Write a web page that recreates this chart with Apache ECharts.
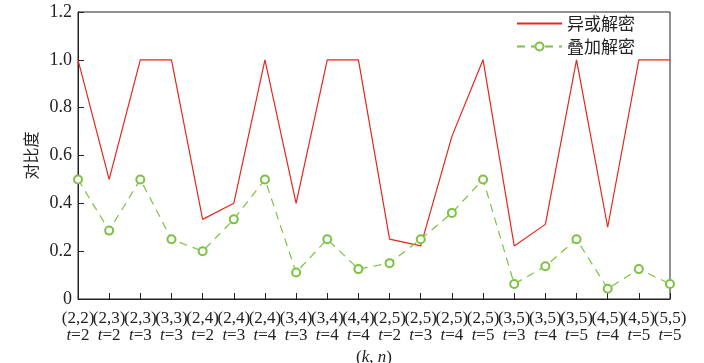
<!DOCTYPE html>
<html><head><meta charset="utf-8">
<script src="https://cdn.jsdelivr.net/npm/echarts@6/dist/echarts.min.js"></script>
<style>html,body{margin:0;padding:0;background:#fff}#c{width:704px;height:363px}</style>
</head><body><div id="c"></div>
<script>
var knLabels = ['(2,2)','(2,3)','(2,3)','(3,3)','(2,4)','(2,4)','(2,4)','(3,4)','(3,4)','(4,4)','(2,5)','(2,5)','(2,5)','(2,5)','(3,5)','(3,5)','(3,5)','(4,5)','(4,5)','(5,5)'];
var tLabels = ['2','2','3','3','2','3','4','3','4','4','2','3','4','5','3','4','5','4','5','5'];
var xorValues = [1.0,0.5,1.0,1.0,0.333,0.4,1.0,0.4,1.0,1.0,0.25,0.222,0.68,1.0,0.222,0.312,1.0,0.3,1.0,1.0];
var stackValues = [0.5,0.286,0.5,0.25,0.2,0.333,0.5,0.111,0.25,0.125,0.15,0.25,0.36,0.5,0.063,0.137,0.25,0.043,0.125,0.063];
var yTicks = [0,0.2,0.4,0.6,0.8,1.0,1.2];
var seriesNames = ['异或解密','叠加解密'];

var categories = knLabels.map(function(k,i){return k+'|'+tLabels[i];});
var FONT = '"Liberation Serif","Times New Roman","Noto Sans CJK SC",serif';
var chart = echarts.init(document.getElementById('c'));
chart.setOption({
  animation:false,
  textStyle:{fontFamily:FONT},
  grid:{left:78,right:34,top:12,bottom:64,show:true,borderColor:'#222',borderWidth:1,backgroundColor:'transparent',containLabel:false,outerBoundsMode:'none'},
  legend:{
    orient:'vertical',left:511,top:10,itemWidth:45,itemHeight:10,itemGap:6,
    textStyle:{fontFamily:'"Noto Sans CJK SC",serif',fontSize:17,color:'#222'},
    data:[{name:seriesNames[0],itemStyle:{opacity:0}},{name:seriesNames[1]}]
  },
  xAxis:{
    type:'category',data:categories,boundaryGap:false,
    axisLine:{lineStyle:{color:'#222',width:1}},
    axisTick:{inside:true,length:6,alignWithLabel:true,lineStyle:{color:'#222'}},
    axisLabel:{
      interval:0,margin:11,fontFamily:FONT,fontSize:17,color:'#222',lineHeight:17,
      formatter:function(v){var p=v.split('|');return p[0]+'\n{i|t}='+p[1];},
      rich:{i:{fontStyle:'italic',fontFamily:FONT,fontSize:17,color:'#222',lineHeight:17}}
    },
    name:'({i|k}, {i|n})',nameLocation:'middle',nameGap:47,
    nameTextStyle:{fontFamily:FONT,fontSize:17,color:'#222',
      rich:{i:{fontStyle:'italic',fontFamily:FONT,fontSize:17,color:'#222'}}}
  },
  yAxis:{
    type:'value',min:yTicks[0],max:yTicks[yTicks.length-1],interval:0.2,
    splitLine:{show:false},
    axisLine:{show:true,lineStyle:{color:'#222',width:1}},
    axisTick:{show:true,inside:true,length:6,lineStyle:{color:'#222'}},
    axisLabel:{fontFamily:FONT,fontSize:18,color:'#222',margin:6,
      formatter:function(v){return v===0?'0':v.toFixed(1);}},
    name:'对比度',nameLocation:'middle',nameGap:38,nameRotate:90,
    nameTextStyle:{fontFamily:'"Noto Sans CJK SC",serif',fontSize:16,color:'#222'}
  },
  series:[
    {name:seriesNames[0],type:'line',data:xorValues,symbol:'none',
      lineStyle:{color:'#e8261b',width:1.2},itemStyle:{color:'#e8261b'}},
    {name:seriesNames[1],type:'line',data:stackValues,symbol:'emptyCircle',symbolSize:8,
      lineStyle:{color:'#7cc242',width:1.2,type:[8,6]},
      itemStyle:{color:'#7cc242',borderColor:'#7cc242',borderWidth:1.2}}
  ]
});
</script></body></html>
